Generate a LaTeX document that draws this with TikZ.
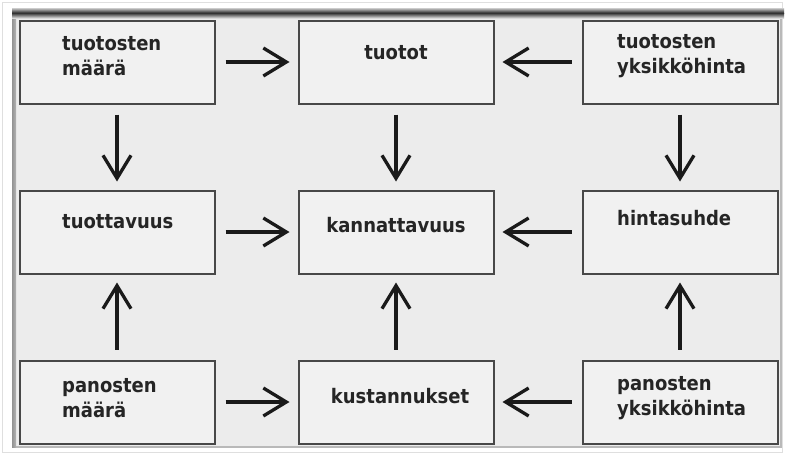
\documentclass[tikz,border=0pt]{standalone}
\usepackage{fontspec}
\usetikzlibrary{arrows.meta}
\newfontfamily\lblfont{DejaVu Sans Condensed Bold}
\newcommand\twoline[2]{\begin{tabular}[t]{@{}l@{}}#1\\#2\end{tabular}}
\definecolor{pagebg}{HTML}{ECECEC}
\definecolor{boxbg}{HTML}{F1F1F1}
\definecolor{inkc}{HTML}{1A1A1A}
\begin{document}
\begin{tikzpicture}[x=1pt,y=-1pt,
  box/.style={draw=inkc!80, line width=2pt, fill=boxbg, minimum width=195pt,
    minimum height=83pt, inner sep=0pt},
  lbl/.style={font=\fontsize{20}{25}\selectfont\lblfont, text=inkc!95, inner sep=0pt},
  arr/.style={draw=inkc, line width=3.6pt, shorten <=10pt, shorten >=8pt,
    -{Straight Barb[length=23pt,width=28pt,line width=3.3pt]}}]
  \useasboundingbox (0,0) rectangle (785,455);
  % paper and frame
  \fill[white] (0,0) rectangle (785,455);
  \draw[gray!25, line width=1pt] (2.5,2.5) rectangle (782.5,452.5);
  \fill[pagebg] (13,12) rectangle (781,447);
  \draw[gray!55, line width=1.5pt] (781,14) -- (781,447) -- (14,447);
  \fill[left color=gray!85, right color=gray!60] (12,14) rectangle (16,447);
  \fill[top color=gray!40, bottom color=black!85] (12,8) rectangle (784,13);
  \fill[top color=black!80, bottom color=gray!30] (12,13) rectangle (784,18);
  % boxes
  \node[box] (b1) at (117,62)  {};
  \node[box] (b2) at (396,62)  {};
  \node[box] (b3) at (680,62)  {};
  \node[box] (b4) at (117,232) {};
  \node[box] (b5) at (396,232) {};
  \node[box] (b6) at (680,232) {};
  \node[box] (b7) at (117,402) {};
  \node[box] (b8) at (396,402) {};
  \node[box] (b9) at (680,402) {};
  % labels
  \node[lbl, anchor=base west] (t1) at (62,50)    {\twoline{tuotosten}{määrä}};
  \node[lbl, anchor=base]      (t2) at (396,59.5) {tuotot};
  \node[lbl, anchor=base west] (t3) at (617,48.5) {\twoline{tuotosten}{yksikköhinta}};
  \node[lbl, anchor=base west] (t4) at (62,228.5) {tuottavuus};
  \node[lbl, anchor=base]      (t5) at (396,232.5){kannattavuus};
  \node[lbl, anchor=base west] (t6) at (617,225.5){hintasuhde};
  \node[lbl, anchor=base west] (t7) at (62,392)   {\twoline{panosten}{määrä}};
  \node[lbl, anchor=base]      (t8) at (400,403.5){kustannukset};
  \node[lbl, anchor=base west] (t9) at (617,390)  {\twoline{panosten}{yksikköhinta}};
  % connectors
  \draw[arr] (b1) -- (b2);
  \draw[arr] (b3) -- (b2);
  \draw[arr] (b1) -- (b4);
  \draw[arr] (b2) -- (b5);
  \draw[arr] (b3) -- (b6);
  \draw[arr] (b4) -- (b5);
  \draw[arr] (b6) -- (b5);
  \draw[arr] (b7) -- (b4);
  \draw[arr] (b8) -- (b5);
  \draw[arr] (b9) -- (b6);
  \draw[arr] (b7) -- (b8);
  \draw[arr] (b9) -- (b8);
\end{tikzpicture}
\end{document}
